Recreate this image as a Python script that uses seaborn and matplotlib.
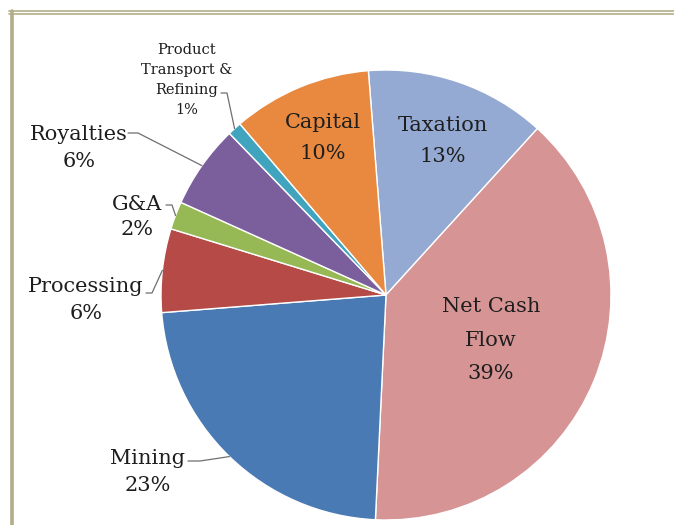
import matplotlib
matplotlib.use("Agg")
import matplotlib.pyplot as plt
from matplotlib.lines import Line2D
import numpy as np
import seaborn as sns

# Cost breakdown of revenue, clockwise from the top
categories = ["Taxation", "Net Cash\nFlow", "Mining", "Processing", "G&A",
              "Royalties", "Product\nTransport &\nRefining", "Capital"]
shares = [13, 39, 23, 6, 2, 6, 1, 10]
colors = ["#95AAD3", "#D69494", "#4A7AB4", "#B54A47", "#96B955",
          "#7B5E9C", "#40A4BF", "#E8893F"]

sns.set_theme(style="white")
plt.rcParams["font.family"] = ["DejaVu Serif"]

W, H = 674, 525
CX, CY, R = 386, 295, 225
fig = plt.figure(figsize=(W / 100, H / 100), dpi=100)
fig.patch.set_facecolor("white")
ax = fig.add_axes([0, 0, 1, 1])

START = 94.5
wedges, _ = ax.pie(shares, colors=colors, startangle=START, counterclock=False,
                   wedgeprops=dict(edgecolor="white", linewidth=1.0))
ax.set_aspect("auto")
ax.set_xlim(-CX / R, (W - CX) / R)
ax.set_ylim(-(H - CY) / R, CY / R)
ax.axis("off")


def px(x, y):
    return (x - CX) / R, (CY - y) / R


def edge_point(i):
    # point on the rim at the middle of wedge i
    w = wedges[i]
    ang = np.deg2rad((w.theta1 + w.theta2) / 2)
    return np.cos(ang), np.sin(ang)


txt_color = "#1e1e1e"

# labels inside the larger slices
inside = {0: (443, 141, 1.8), 1: (491, 340, 1.95), 7: (323, 138, 1.8)}
for i, (x, y, ls) in inside.items():
    ax.text(*px(x, y), f"{categories[i]}\n{shares[i]}%", ha="center", va="center",
            fontsize=15, color=txt_color, linespacing=ls)

# labels outside the smaller slices, with leader lines
outside = {
    2: dict(pos=(148, 472), start=(188, 461), knee=(200, 461), size=15, ls=1.5),
    3: dict(pos=(86, 300), start=(146, 293), knee=(152, 293), size=15, ls=1.5),
    4: dict(pos=(137, 217), start=(166, 205), knee=(172, 205), size=15, ls=1.45),
    5: dict(pos=(79, 148), start=(128, 133), knee=(138, 133), size=15, ls=1.5),
    6: dict(pos=(187, 80), start=(221, 93), knee=(227, 93), size=10.5, ls=1.55),
}
for i, o in outside.items():
    ax.text(*px(*o["pos"]), f"{categories[i]}\n{shares[i]}%", ha="center",
            va="center", fontsize=o["size"], color=txt_color, linespacing=o["ls"])
    ex, ey = edge_point(i)
    sx, sy = px(*o["start"])
    kx, ky = px(*o["knee"])
    ax.add_line(Line2D([sx, kx, ex], [sy, ky, ey], color="#6f6f6f", lw=0.9))

# frame lines along the top and left of the image
border = "#B3AD89"
for yy in (11, 14):
    fig.add_artist(Line2D([9 / W, 1], [1 - yy / H, 1 - yy / H], color=border,
                          lw=1.2, transform=fig.transFigure))
fig.add_artist(Line2D([12.5 / W, 12.5 / W], [1 - 11 / H, 0], color=border,
                      lw=2.6, transform=fig.transFigure))

fig.savefig("out.png", dpi=100, facecolor="white")
